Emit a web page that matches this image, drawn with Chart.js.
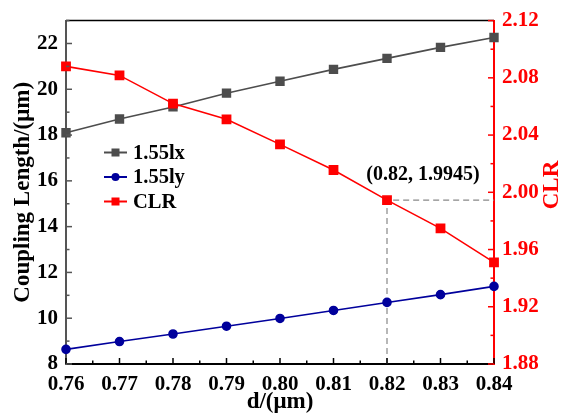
<!DOCTYPE html>
<html>
<head>
<meta charset="utf-8">
<script src="https://cdn.jsdelivr.net/npm/chart.js@4.4.1/dist/chart.umd.min.js"></script>
<style>
html,body{margin:0;padding:0;background:#fff}
#wrap{width:564px;height:415px}
</style>
</head>
<body>
<div id="wrap"><canvas id="mainChart" width="564" height="415"></canvas></div>
<script>

const dValues=[0.76,0.77,0.78,0.79,0.80,0.81,0.82,0.83,0.84]
const lx=[18.10,18.70,19.23,19.83,20.35,20.87,21.35,21.83,22.26]
const ly=[8.64,8.98,9.31,9.65,9.99,10.34,10.69,11.03,11.39]
const clr=[2.088,2.0817,2.062,2.051,2.0335,2.0156,1.9945,1.9748,1.951]

const xTicks=[0.76,0.77,0.78,0.79,0.80,0.81,0.82,0.83,0.84]
const leftTicks=[8,10,12,14,16,18,20,22]
const rightTicks=[1.88,1.92,1.96,2.00,2.04,2.08,2.12]

// marked point and its guide lines down to the x axis and across to the CLR axis
const markX=0.82
const markY=1.9945
const guideX=[0.82,0.82,0.84]
const guideY=[1.88,1.9945,1.9945]

const FONT="'Liberation Serif','Times New Roman',serif"

function pts(xs,ys){
return xs.map((x,i)=>({x:x,y:ys[i]}))
}

function tick(ctx,x1,y1,x2,y2){
ctx.beginPath()
ctx.moveTo(x1,y1)
ctx.lineTo(x2,y2)
ctx.stroke()
}

// ticks point inwards, with a shorter minor tick between majors
const innerTicks={
id:"innerTicks",
afterDraw(chart){

const ctx=chart.ctx
const a=chart.chartArea
const sx=chart.scales.x
const sl=chart.scales.y
const sr=chart.scales.y1

ctx.save()
ctx.lineWidth=1.5

ctx.strokeStyle="#000"
tick(ctx,a.left,a.top,a.right,a.top)

xTicks.forEach((v,i)=>{
const p=sx.getPixelForValue(v)
tick(ctx,p,a.bottom,p,a.bottom-6)
if(i<xTicks.length-1){
const m=sx.getPixelForValue((v+xTicks[i+1])/2)
tick(ctx,m,a.bottom,m,a.bottom-3.5)
}
})

ctx.strokeStyle="#555"
leftTicks.forEach(v=>{
const p=sl.getPixelForValue(v)
tick(ctx,a.left,p,a.left+6,p)
const m=sl.getPixelForValue(v+1)
tick(ctx,a.left,m,a.left+3.5,m)
})

ctx.strokeStyle="#ff0000"
rightTicks.forEach((v,i)=>{
const p=sr.getPixelForValue(v)
tick(ctx,a.right,p,a.right-6,p)
if(i<rightTicks.length-1){
const m=sr.getPixelForValue((v+rightTicks[i+1])/2)
tick(ctx,a.right,m,a.right-3.5,m)
}
})

ctx.restore()

}
}

// axis titles, the inner legend and the point label
const textLayer={
id:"textLayer",
afterDraw(chart){

const ctx=chart.ctx
const a=chart.chartArea
const midY=(a.top+a.bottom)/2

ctx.save()
ctx.font="bold 23px "+FONT
ctx.textAlign="center"
ctx.textBaseline="middle"

ctx.fillStyle="#000"
ctx.fillText("d/(μm)",(a.left+a.right)/2,402)

ctx.save()
ctx.translate(23,midY)
ctx.rotate(-Math.PI/2)
ctx.fillText("Coupling Length/(μm)",0,0)
ctx.restore()

ctx.save()
ctx.fillStyle="#ff0000"
ctx.translate(552,185)
ctx.rotate(-Math.PI/2)
ctx.fillText("CLR",0,0)
ctx.restore()

const px=chart.scales.x.getPixelForValue(markX)
const py=chart.scales.y1.getPixelForValue(markY)
ctx.font="bold 20px "+FONT
ctx.fillText("("+markX.toFixed(2)+", "+markY+")",px+36,py-25)

ctx.font="bold 20.5px "+FONT
ctx.textAlign="left"
const rows=chart.data.datasets.filter(d=>d.label!=="guide")
rows.sort((p,q)=>p.legendRank-q.legendRank)
rows.forEach((ds,i)=>{
const y=152.5+i*24.5
ctx.strokeStyle=ds.borderColor
ctx.lineWidth=2
tick(ctx,104,y,127,y)
ctx.fillStyle=ds.borderColor
if(ds.pointStyle==="circle"){
ctx.beginPath()
ctx.arc(115.5,y,4,0,Math.PI*2)
ctx.fill()
}else{
ctx.fillRect(111.5,y-4,8,8)
}
ctx.fillStyle="#000"
ctx.fillText(ds.label,133,y+1)
})

ctx.restore()

}
}

new Chart(document.getElementById("mainChart"),{

type:"line",

data:{
datasets:[
{
label:"CLR",
legendRank:2,
data:pts(dValues,clr),
yAxisID:"y1",
borderColor:"#ff0000",
backgroundColor:"#ff0000",
borderWidth:1.6,
pointStyle:"rect",
pointRadius:5.8,
order:0
},
{
label:"1.55lx",
legendRank:0,
data:pts(dValues,lx),
yAxisID:"y",
borderColor:"#4d4d4d",
backgroundColor:"#4d4d4d",
borderWidth:1.6,
pointStyle:"rect",
pointRadius:5.5,
order:1
},
{
label:"1.55ly",
legendRank:1,
data:pts(dValues,ly),
yAxisID:"y",
borderColor:"#00009c",
backgroundColor:"#00009c",
borderWidth:1.6,
pointStyle:"circle",
pointRadius:4,
order:2
},
{
label:"guide",
data:pts(guideX,guideY),
yAxisID:"y1",
borderColor:"#888",
borderWidth:1.2,
borderDash:[6,4],
pointRadius:0,
order:3
}
]
},

options:{
responsive:false,
animation:false,
clip:false,
layout:{padding:{top:17,left:0,right:0,bottom:0}},
plugins:{
legend:{display:false},
tooltip:{enabled:false}
},
scales:{
x:{
type:"linear",
min:0.76,
max:0.84,
afterBuildTicks:s=>{s.ticks=xTicks.map(v=>({value:v}))},
afterFit:s=>{s.height=51},
grid:{display:false,drawTicks:false},
border:{display:true,color:"#000",width:2},
ticks:{
padding:8,
color:"#000",
font:{family:FONT,size:21,weight:"bold"},
callback:v=>v.toFixed(2)
}
},
y:{
position:"left",
min:8,
max:23,
afterBuildTicks:s=>{s.ticks=leftTicks.map(v=>({value:v}))},
afterFit:s=>{s.width=66},
grid:{display:false,drawTicks:false},
border:{display:true,color:"#555",width:2},
ticks:{
padding:8,
color:"#000",
font:{family:FONT,size:21,weight:"bold"}
}
},
y1:{
position:"right",
min:1.88,
max:2.12,
afterBuildTicks:s=>{s.ticks=rightTicks.map(v=>({value:v}))},
afterFit:s=>{s.width=70},
grid:{display:false,drawTicks:false},
border:{display:true,color:"#ff0000",width:2},
ticks:{
padding:8,
color:"#ff0000",
font:{family:FONT,size:21,weight:"bold"},
callback:v=>v.toFixed(2)
}
}
}
},

plugins:[innerTicks,textLayer]

})

</script>
</body>
</html>
